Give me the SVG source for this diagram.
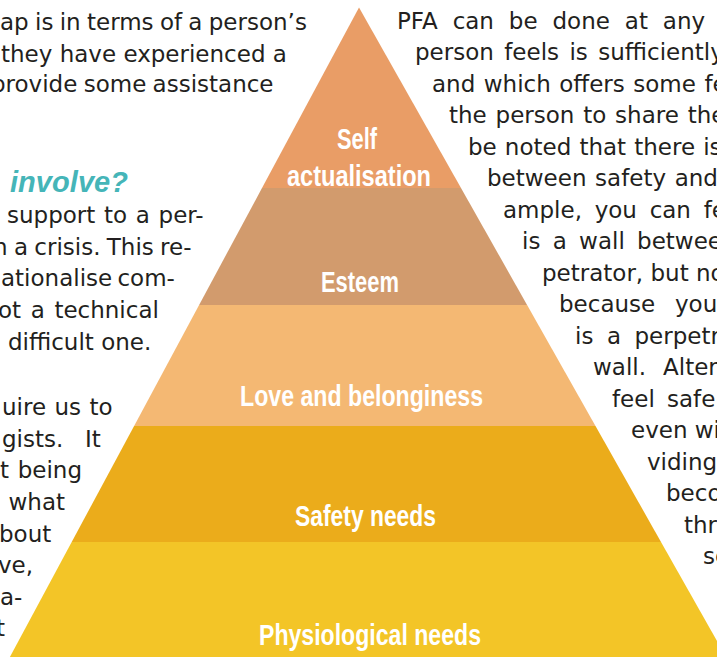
<svg xmlns="http://www.w3.org/2000/svg" width="717" height="659" viewBox="0 0 717 659">
<style>
.body{font-family:"DejaVu Sans","Liberation Sans",sans-serif;font-size:23px;fill:#231f20}
.head{font-family:"Liberation Sans",Arial,sans-serif;font-size:29px;font-weight:bold;font-style:italic;fill:#45b5b8}
.lbl{font-family:"Liberation Sans",Arial,sans-serif;font-size:29px;font-weight:bold;fill:#ffffff}
</style>
<rect width="717" height="659" fill="#ffffff"/>
<g id="pyramid">
<g id="physiological"><polygon points="71.7,542 661,542 726,657 9.9,657" fill="#f3c527"/><text class="lbl" x="259" y="645" textLength="222" lengthAdjust="spacingAndGlyphs">Physiological needs</text></g>
<g id="safety"><polygon points="134.1,426 595.5,426 661,542 71.7,542" fill="#ebac1b"/><text class="lbl" x="295" y="526" textLength="141" lengthAdjust="spacingAndGlyphs">Safety needs</text></g>
<g id="love"><polygon points="199.1,305 527.1,305 595.5,426 134.1,426" fill="#f4b873"/><text class="lbl" x="240" y="406" textLength="243" lengthAdjust="spacingAndGlyphs">Love and belonginess</text></g>
<g id="esteem"><polygon points="262,188 461,188 527.1,305 199.1,305" fill="#d29b6d"/><text class="lbl" x="321" y="292" textLength="78" lengthAdjust="spacingAndGlyphs">Esteem</text></g>
<g id="self"><polygon points="359,7.5 461,188 262,188" fill="#e99d66"/><text class="lbl" x="337" y="149" textLength="40" lengthAdjust="spacingAndGlyphs">Self</text><text class="lbl" x="287" y="186" textLength="144" lengthAdjust="spacingAndGlyphs">actualisation</text></g>
</g>
<g id="left-text">
<text class="body" x="0" y="30" word-spacing="-1">ap is in terms of a person’s</text>
<text class="body" x="1" y="62">they have experienced a</text>
<text class="body" x="-9" y="92" word-spacing="-1">provide some assistance</text>
<text class="head" x="10" y="192" textLength="118">involve?</text>
<text class="body" x="7" y="223" word-spacing="1.4">support to a per-</text>
<text class="body" x="-7" y="255" word-spacing="-1">n a crisis. This re-</text>
<text class="body" x="1" y="286" word-spacing="-2">ationalise com-</text>
<text class="body" x="-2" y="318" word-spacing="2.3">ot a technical</text>
<text class="body" x="8" y="350">difficult one.</text>
<text class="body" x="2" y="415" word-spacing="1.1">uire us to</text>
<text class="body" x="2" y="447">gists.</text>
<text class="body" x="85" y="447">It</text>
<text class="body" x="0" y="478" word-spacing="1.4">t being</text>
<text class="body" x="8.5" y="510">what</text>
<text class="body" x="-1" y="542">bout</text>
<text class="body" x="-2" y="573">ve,</text>
<text class="body" x="0" y="605">a-</text>
<text class="body" x="-4" y="636">t</text>
</g>
<g id="right-text">
<text class="body" x="397" y="28.5" word-spacing="7.6">PFA can be done at any</text>
<text class="body" x="415" y="60" word-spacing="3.1">person feels is sufficiently</text>
<text class="body" x="432" y="91.5" word-spacing="1.2">and which offers some fe</text>
<text class="body" x="449" y="123" word-spacing="1.5">the person to share the</text>
<text class="body" x="468" y="154.5" word-spacing="0.8">be noted that there is</text>
<text class="body" x="487" y="186" word-spacing="1.3">between safety and</text>
<text class="body" x="503" y="217.5" word-spacing="5.4">ample, you can fe</text>
<text class="body" x="522" y="249" word-spacing="5">is a wall betwee</text>
<text class="body" x="542" y="280.5">petrator, but no</text>
<text class="body" x="559" y="312" word-spacing="12.5">because you</text>
<text class="body" x="575" y="343.5" word-spacing="6.2">is a perpetr</text>
<text class="body" x="593" y="375" word-spacing="9.7">wall. Alter</text>
<text class="body" x="612" y="406.5" word-spacing="4.9">feel safe</text>
<text class="body" x="631" y="438">even wi</text>
<text class="body" x="647" y="469.5">viding</text>
<text class="body" x="666" y="501">beco</text>
<text class="body" x="684" y="532.5">thr</text>
<text class="body" x="703" y="564">se</text>
</g>
</svg>
